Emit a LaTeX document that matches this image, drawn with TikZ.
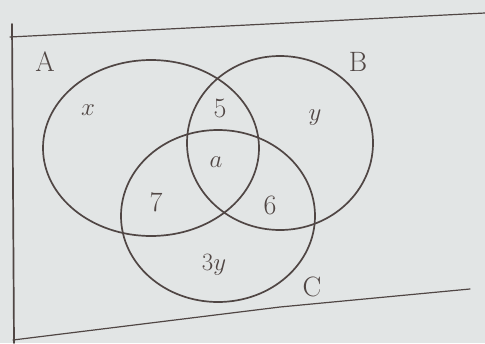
\documentclass[tikz,border=0pt]{standalone}
\usetikzlibrary{shapes.geometric}
\definecolor{paper}{RGB}{226,229,229}
\definecolor{ink}{RGB}{80,70,68}
\begin{document}
\begin{tikzpicture}[x=1pt,y=-1pt,
  pen/.style={draw=ink,line width=1.7pt,line cap=round,line join=round},
  lbl/.style={text=ink,font=\fontsize{28}{32}\selectfont,inner sep=0pt}]
\fill[paper] (0,0) rectangle (485,343);
\useasboundingbox (0,0) rectangle (485,343);
% frame
\draw[pen] (12,24) -- (14,343);
\draw[pen,line width=1.2pt] (10,37) -- (485,13);
\draw[pen,line width=1.2pt] (13,340) -- (280,307) -- (470,289);
% sets
\draw[pen] (151,148) ellipse [x radius=108,y radius=88];
\draw[pen] (280,143) ellipse [x radius=93,y radius=87];
\draw[pen] (218,216) ellipse [x radius=97,y radius=86];
% labels
\node[lbl] (lA) at (45,62) {A};
\node[lbl] (lB) at (358,62) {B};
\node[lbl] (lC) at (312,287) {C};
\node[lbl] (rx) at (88,110) {$x$};
\node[lbl] (r5) at (220,108) {5};
\node[lbl] (ry) at (315,118) {$y$};
\node[lbl] (ra) at (216,162) {$a$};
\node[lbl] (r7) at (156,202) {7};
\node[lbl] (r6) at (270,205) {6};
\node[lbl] (r3y) at (214,265) {$3y$};
\end{tikzpicture}
\end{document}
